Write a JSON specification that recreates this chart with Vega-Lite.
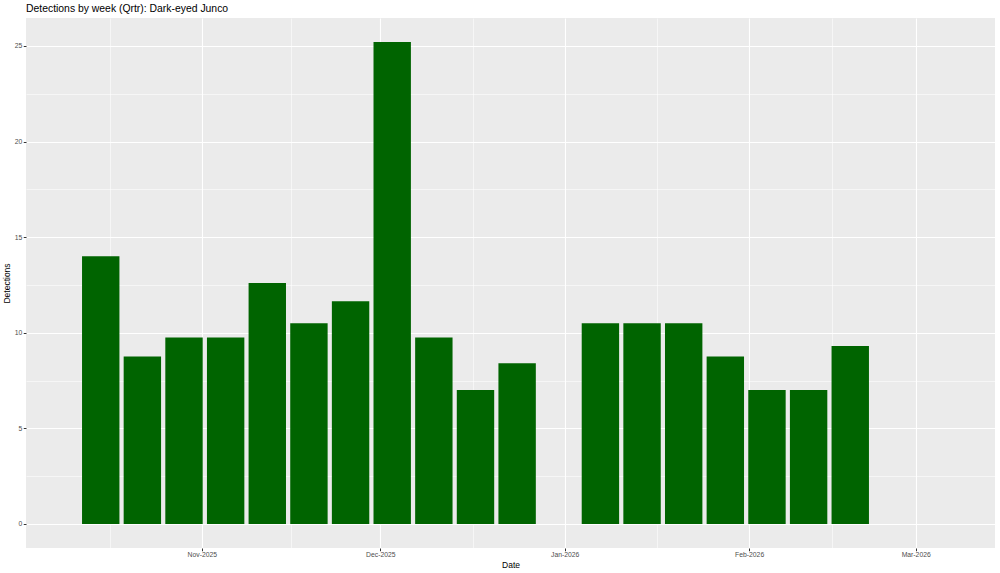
{
  "$schema": "https://vega.github.io/schema/vega-lite/v6.json",
  "width": 969,
  "height": 530,
  "autosize": {"type": "none"},
  "padding": {"left": 26, "top": 18, "right": 5, "bottom": 25},
  "background": "white",
  "title": {"text": "Detections by week (Qrtr): Dark-eyed Junco", "anchor": "start", "frame": "group", "fontSize": 10.4, "font": "Liberation Sans", "fontWeight": "normal", "color": "black", "offset": 4},
  "config": {"view": {"fill": "#EBEBEB", "stroke": null}},
  "data": {"values": [
    {"week": "2025-10-15", "detections": 14.0},
    {"week": "2025-10-22", "detections": 8.75},
    {"week": "2025-10-29", "detections": 9.75},
    {"week": "2025-11-05", "detections": 9.75},
    {"week": "2025-11-12", "detections": 12.6},
    {"week": "2025-11-19", "detections": 10.5},
    {"week": "2025-11-26", "detections": 11.65},
    {"week": "2025-12-03", "detections": 25.2},
    {"week": "2025-12-10", "detections": 9.75},
    {"week": "2025-12-17", "detections": 7.0},
    {"week": "2025-12-24", "detections": 8.4},
    {"week": "2026-01-07", "detections": 10.5},
    {"week": "2026-01-14", "detections": 10.5},
    {"week": "2026-01-21", "detections": 10.5},
    {"week": "2026-01-28", "detections": 8.75},
    {"week": "2026-02-04", "detections": 7.0},
    {"week": "2026-02-11", "detections": 7.0},
    {"week": "2026-02-18", "detections": 9.3}
  ]},
  "mark": {"type": "bar", "size": 37.4, "color": "#006400"},
  "encoding": {
    "x": {
      "field": "week", "type": "temporal",
      "scale": {"type": "utc", "padding": 0, "nice": false, "domain": [
        {"year": 2025, "month": 10, "date": 2, "hours": 10, "minutes": 30, "utc": true},
        {"year": 2026, "month": 3, "date": 14, "hours": 8, "utc": true}
      ]},
      "axis": {
        "values": [
          {"year": 2025, "month": 10, "date": 16, "hours": 12, "utc": true},
          {"year": 2025, "month": 11, "date": 1, "utc": true},
          {"year": 2025, "month": 11, "date": 16, "utc": true},
          {"year": 2025, "month": 12, "date": 1, "utc": true},
          {"year": 2025, "month": 12, "date": 16, "hours": 12, "utc": true},
          {"year": 2026, "month": 1, "date": 1, "utc": true},
          {"year": 2026, "month": 1, "date": 16, "hours": 12, "utc": true},
          {"year": 2026, "month": 2, "date": 1, "utc": true},
          {"year": 2026, "month": 2, "date": 15, "utc": true},
          {"year": 2026, "month": 3, "date": 1, "utc": true}
        ],
        "labelExpr": "(utcdate(datum.value) === 1 && utchours(datum.value) === 0) ? utcFormat(datum.value, '%b-%Y') : ''",
        "gridColor": "white",
        "gridWidth": {"condition": {"test": "utcdate(datum.value) === 1 && utchours(datum.value) === 0", "value": 1.1}, "value": 0.55},
        "tickColor": {"condition": {"test": "utcdate(datum.value) === 1 && utchours(datum.value) === 0", "value": "#333333"}, "value": "transparent"},
        "tickSize": 2.75,
        "domain": false,
        "labelFont": "Liberation Sans", "labelFontSize": 6.8, "labelColor": "#4D4D4D", "labelPadding": 0.5,
        "labelFlush": false, "labelOverlap": false,
        "title": "Date", "titleFont": "Liberation Sans", "titleFontSize": 8.5, "titleFontWeight": "normal", "titleColor": "black", "titlePadding": 2
      }
    },
    "y": {
      "field": "detections", "type": "quantitative",
      "scale": {"domain": [-1.26, 26.46], "zero": false, "nice": false, "padding": 0},
      "axis": {
        "values": [0, 2.5, 5, 7.5, 10, 12.5, 15, 17.5, 20, 22.5, 25],
        "labelExpr": "datum.value % 5 === 0 ? datum.label : ''",
        "gridColor": "white",
        "gridWidth": {"condition": {"test": "datum.value % 5 === 0", "value": 1.1}, "value": 0.55},
        "tickColor": {"condition": {"test": "datum.value % 5 === 0", "value": "#333333"}, "value": "transparent"},
        "tickSize": 2.75,
        "domain": false,
        "labelFont": "Liberation Sans", "labelFontSize": 6.8, "labelColor": "#4D4D4D", "labelPadding": 1.5,
        "labelFlush": false, "labelOverlap": false,
        "title": "Detections", "titleFont": "Liberation Sans", "titleFontSize": 8.5, "titleFontWeight": "normal", "titleColor": "black", "titlePadding": 2.5
      }
    },
    "y2": {"datum": 0}
  }
}
